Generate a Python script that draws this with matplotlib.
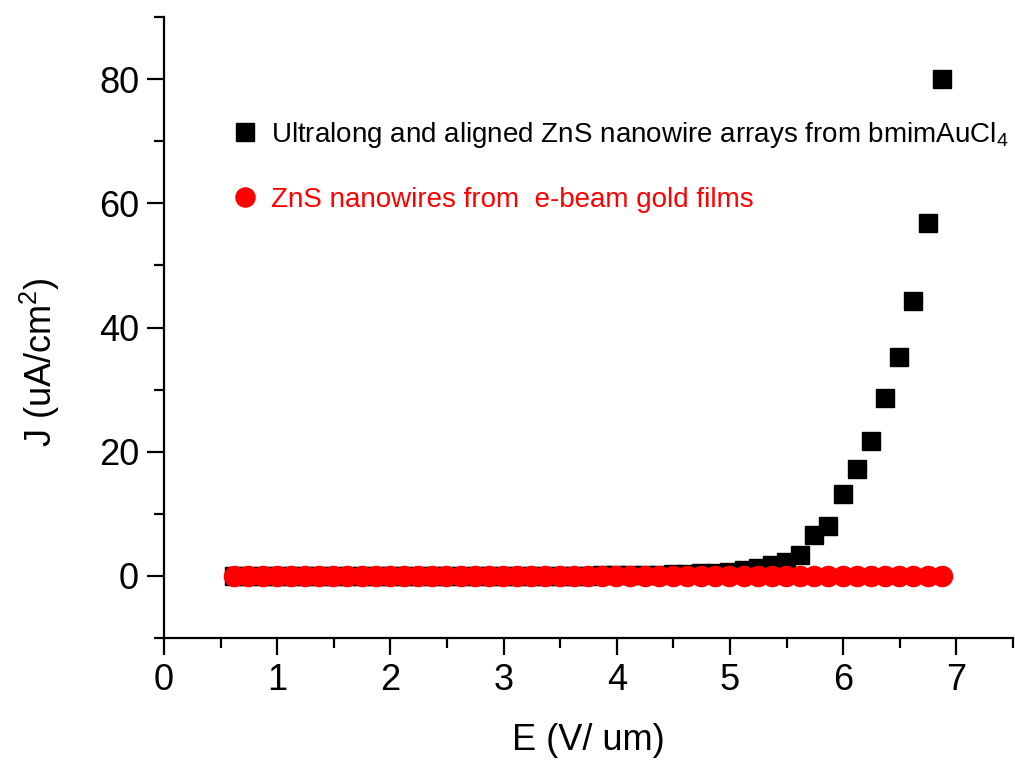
import matplotlib.pyplot as plt
from matplotlib.ticker import MultipleLocator

plt.rcParams["font.family"] = ["Liberation Sans", "DejaVu Sans"]
plt.rcParams["mathtext.fontset"] = "custom"
plt.rcParams["mathtext.rm"] = "Liberation Sans"

# field E (V/um), shared by both series
e_field = [0.62, 0.745, 0.87, 0.995, 1.12, 1.245, 1.37, 1.495, 1.62, 1.745,
           1.87, 1.995, 2.12, 2.245, 2.37, 2.495, 2.62, 2.745, 2.87, 2.995,
           3.12, 3.245, 3.37, 3.495, 3.62, 3.745, 3.87, 3.995, 4.12, 4.245,
           4.37, 4.495, 4.62, 4.745, 4.87, 4.995, 5.12, 5.245, 5.37, 5.495,
           5.62, 5.745, 5.87, 5.995, 6.12, 6.245, 6.37, 6.495, 6.62, 6.745, 6.87]

# current density J (uA/cm^2)
j_bmim = [0.0, 0.0, 0.0, 0.0, 0.0, 0.0, 0.0, 0.0, 0.0, 0.0,
          0.0, 0.0, 0.0, 0.0, 0.0, 0.0, 0.0, 0.0, 0.0, 0.0,
          0.0, 0.0, 0.0, 0.05, 0.05, 0.05, 0.1, 0.1, 0.1, 0.15,
          0.2, 0.3, 0.35, 0.45, 0.55, 0.7, 0.9, 1.2, 1.8, 2.2,
          3.4, 6.6, 8.0, 13.2, 17.2, 21.8, 28.6, 35.2, 44.2, 56.8, 80.0]

j_ebeam = [0.0] * 51

label_bmim = "Ultralong and aligned ZnS nanowire arrays from bmimAuCl$\\mathregular{_4}$"
label_ebeam = "ZnS nanowires from  e-beam gold films"

fig = plt.figure(figsize=(10.15, 7.6), dpi=100)
ax = fig.add_axes([0.1616, 0.1605, 0.8364, 0.8171])

ax.plot(e_field, j_bmim, "s", color="black", markersize=13, label=label_bmim)
ax.plot(e_field, j_ebeam, "o", color="red", markersize=14.5, label=label_ebeam)

ax.set_xlim(0, 7.5)
ax.set_ylim(-10, 90)
ax.xaxis.set_major_locator(MultipleLocator(1))
ax.xaxis.set_minor_locator(MultipleLocator(0.5))
ax.yaxis.set_minor_locator(MultipleLocator(10))
ax.set_yticks([0, 20, 40, 60, 80])

for side in ["top", "right"]:
    ax.spines[side].set_visible(False)
for side in ["left", "bottom"]:
    ax.spines[side].set_linewidth(1.6)

ax.tick_params(which="major", direction="out", length=12, width=1.6, labelsize=26, pad=6)
ax.tick_params(which="minor", direction="out", length=7, width=1.6)

ax.set_xlabel("E (V/ um)", fontsize=26, labelpad=18)
ax.set_ylabel("J (uA/cm$\\mathregular{^2}$)", fontsize=26)
ax.yaxis.set_label_coords(-0.12, 0.445)

ax.legend(loc="upper left", bbox_to_anchor=(0.058, 0.875), frameon=False,
          fontsize=20, numpoints=1, handlelength=0.5, handletextpad=0.68,
          labelspacing=1.35, labelcolor="linecolor", markerscale=0.95)

fig.savefig("out.png", dpi=100)
